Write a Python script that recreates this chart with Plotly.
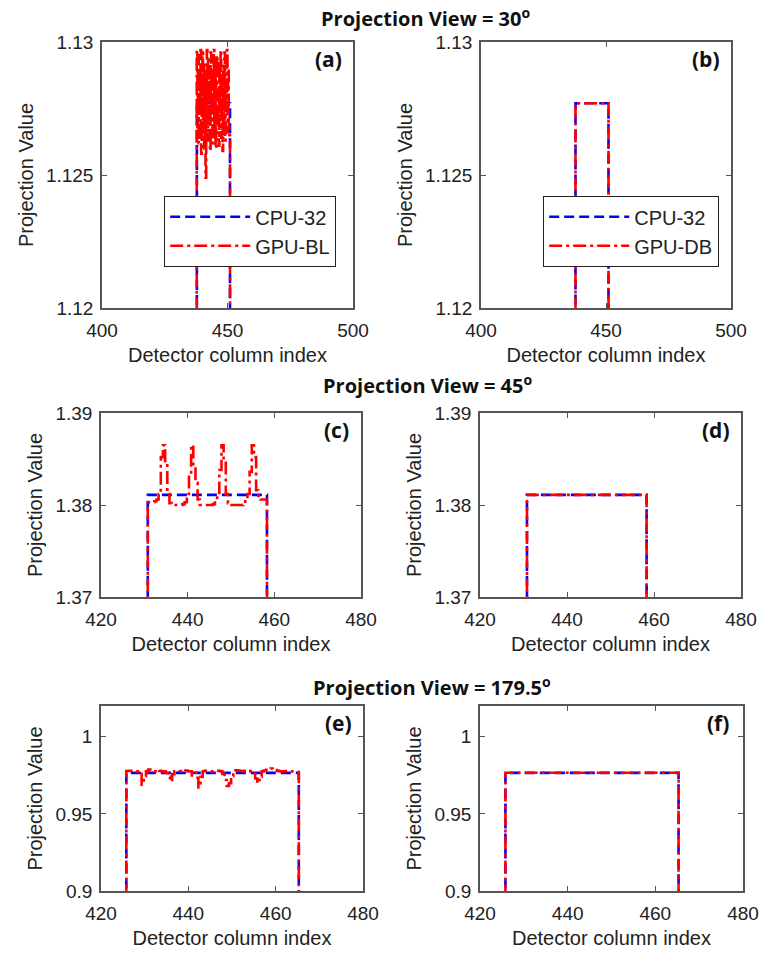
import plotly.graph_objects as go

# ---------------- data ----------------
# Projection view = 30 deg  (panels a, b)
CPU32_30_cols = [400, 437.8, 451.0, 500]
CPU32_30_vals = [1.10, 1.1277, 1.10, 1.10]
GPUDB_30_cols = [400, 437.8, 451.0, 500]
GPUDB_30_vals = [1.10, 1.1277, 1.10, 1.10]
GPUBL_30_start, GPUBL_30_step = 437.75, 0.25
GPUBL_30_vals = [1.1297, 1.1268, 1.1295, 1.1262, 1.1290, 1.1275, 1.1297, 1.1258, 1.1285, 1.1296,
                 1.1266, 1.1292, 1.1260, 1.1288, 1.1249, 1.1280, 1.1297, 1.1263, 1.1294, 1.1271,
                 1.1286, 1.1259, 1.1296, 1.1277, 1.1290, 1.1262, 1.1284, 1.1297, 1.1266, 1.1292,
                 1.1260, 1.1287, 1.1295, 1.1268, 1.1281, 1.1261, 1.1293, 1.1274, 1.1297, 1.1264,
                 1.1288, 1.1259, 1.1291, 1.1270, 1.1296, 1.1263, 1.1285, 1.1275, 1.1297, 1.1266,
                 1.1290, 1.1268, 1.1265]
BASE_30 = 1.10

# Projection view = 45 deg  (panels c, d)
CPU32_45_cols = [420, 430.8, 458.3, 480]
CPU32_45_vals = [1.36, 1.3811, 1.36, 1.36]
GPUDB_45_cols = [420, 430.8, 458.3, 480]
GPUDB_45_vals = [1.36, 1.3811, 1.36, 1.36]
GPUBL_45_start, GPUBL_45_step = 430.8, 0.5
GPUBL_45_vals = [1.3803, 1.3803, 1.3803, 1.3804, 1.3806, 1.3812, 1.3852, 1.3865, 1.3848, 1.3812,
                 1.3802, 1.3800, 1.3800, 1.3800, 1.3800, 1.3800, 1.3801, 1.3803, 1.3812, 1.3833,
                 1.3865, 1.3842, 1.3824, 1.3806, 1.3800, 1.3800, 1.3800, 1.3800, 1.3800, 1.3800,
                 1.3801, 1.3805, 1.3813, 1.3838, 1.3865, 1.3846, 1.3812, 1.3802, 1.3800, 1.3800,
                 1.3800, 1.3800, 1.3800, 1.3800, 1.3801, 1.3804, 1.3812, 1.3836, 1.3865, 1.3852,
                 1.3816, 1.3808, 1.3806, 1.3806, 1.3806]
BASE_45 = 1.36

# Projection view = 179.5 deg  (panels e, f)
CPU32_179_cols = [420, 425.8, 465.3, 480]
CPU32_179_vals = [0.85, 0.9766, 0.85, 0.85]
GPUDB_179_cols = [420, 425.8, 465.3, 480]
GPUDB_179_vals = [0.85, 0.9767, 0.85, 0.85]
GPUBL_179_start, GPUBL_179_step = 425.8, 0.5
GPUBL_179_vals = [0.9778, 0.9780, 0.9779, 0.9778, 0.9777, 0.9776, 0.9760, 0.9690, 0.9745, 0.9776,
                  0.9788, 0.9782, 0.9777, 0.9776, 0.9785, 0.9779, 0.9777, 0.9776, 0.9765, 0.9740,
                  0.9712, 0.9758, 0.9777, 0.9779, 0.9778, 0.9777, 0.9779, 0.9781, 0.9777, 0.9776,
                  0.9750, 0.9768, 0.9735, 0.9672, 0.9740, 0.9777, 0.9779, 0.9778, 0.9777, 0.9776,
                  0.9778, 0.9780, 0.9779, 0.9777, 0.9760, 0.9720, 0.9682, 0.9700, 0.9745, 0.9777,
                  0.9783, 0.9781, 0.9778, 0.9777, 0.9779, 0.9782, 0.9778, 0.9776, 0.9762, 0.9730,
                  0.9700, 0.9742, 0.9776, 0.9782, 0.9786, 0.9790, 0.9795, 0.9791, 0.9784, 0.9779,
                  0.9777, 0.9776, 0.9777, 0.9778, 0.9777, 0.9776, 0.9775, 0.9774, 0.9772]
BASE_179 = 0.85

X_RANGE_30 = [400, 500]
X_TICKS_30 = [400, 450, 500]
Y_RANGE_30 = [1.12, 1.13]
Y_TICKS_30 = [1.12, 1.125, 1.13]
Y_TICKTEXT_30 = ["1.12", "1.125", "1.13"]

X_RANGE_45 = [420, 480]
X_TICKS_45 = [420, 440, 460, 480]
Y_RANGE_45 = [1.37, 1.39]
Y_TICKS_45 = [1.37, 1.38, 1.39]
Y_TICKTEXT_45 = ["1.37", "1.38", "1.39"]

X_RANGE_179 = [420, 480]
X_TICKS_179 = [420, 440, 460, 480]
Y_RANGE_179 = [0.9, 1.02]
Y_TICKS_179 = [0.9, 0.95, 1.0]
Y_TICKTEXT_179 = ["0.9", "0.95", "1"]

TITLES = ["Projection View = 30<sup>o</sup>", "Projection View = 45<sup>o</sup>",
          "Projection View = 179.5<sup>o</sup>"]
PANEL_LABELS = ["(a)", "(b)", "(c)", "(d)", "(e)", "(f)"]


def fine_profile(start, step, vals, base, lo, hi):
    xs = [lo] + [round(start + step * i, 3) for i in range(len(vals))] + [round(start + step * len(vals), 3), hi]
    ys = [base] + list(vals) + [base, base]
    return xs, ys


W, H = 760, 958
BLUE = "#0000FF"
RED = "#FF0000"
BLUE_DASH = "10px,5px"
RED_DASH = "13px,4px,3px,4px"
LW = 2.6
TICK_FONT = dict(family="Liberation Sans, Arial, sans-serif", size=19, color="#222")
TITLE_FONT = dict(family="Liberation Sans, Arial, sans-serif", size=20, color="#222")
BOLD_FAMILY = "Open Sans, Noto Sans, sans-serif"

# panel boxes in pixels (x0, x1, y0_top, y1_bottom)
boxes = [
    (102, 353, 42, 308), (481, 731, 42, 308),
    (101, 361, 413, 597), (480, 741, 413, 597),
    (101, 363, 706, 891), (480, 743, 706, 891),
]

fig = go.Figure()

panel_data = [
    (CPU32_30_cols, CPU32_30_vals, fine_profile(GPUBL_30_start, GPUBL_30_step, GPUBL_30_vals, BASE_30, 400, 500), "GPU-BL"),
    (CPU32_30_cols, CPU32_30_vals, (GPUDB_30_cols, GPUDB_30_vals), "GPU-DB"),
    (CPU32_45_cols, CPU32_45_vals, fine_profile(GPUBL_45_start, GPUBL_45_step, GPUBL_45_vals, BASE_45, 420, 480), "GPU-BL"),
    (CPU32_45_cols, CPU32_45_vals, (GPUDB_45_cols, GPUDB_45_vals), "GPU-DB"),
    (CPU32_179_cols, CPU32_179_vals, fine_profile(GPUBL_179_start, GPUBL_179_step, GPUBL_179_vals, BASE_179, 420, 480), "GPU-BL"),
    (CPU32_179_cols, CPU32_179_vals, (GPUDB_179_cols, GPUDB_179_vals), "GPU-DB"),
]

for i, (cx, cy, (gx, gy), gname) in enumerate(panel_data):
    sfx = "" if i == 0 else str(i + 1)
    leg = None
    show = False
    if i == 0:
        leg, show = "legend", True
    elif i == 1:
        leg, show = "legend2", True
    kw = dict(xaxis="x" + sfx, yaxis="y" + sfx, showlegend=show)
    if leg:
        kw["legend"] = leg
    fig.add_trace(go.Scatter(x=cx, y=cy, mode="lines", name="CPU-32", line_shape="hv",
                             line=dict(color=BLUE, width=LW, dash=BLUE_DASH), **kw))
    fig.add_trace(go.Scatter(x=gx, y=gy, mode="lines", name=gname, line_shape="hv",
                             line=dict(color=RED, width=LW, dash=RED_DASH), **kw))

ranges = [
    (X_RANGE_30, X_TICKS_30, Y_RANGE_30, Y_TICKS_30, Y_TICKTEXT_30),
    (X_RANGE_30, X_TICKS_30, Y_RANGE_30, Y_TICKS_30, Y_TICKTEXT_30),
    (X_RANGE_45, X_TICKS_45, Y_RANGE_45, Y_TICKS_45, Y_TICKTEXT_45),
    (X_RANGE_45, X_TICKS_45, Y_RANGE_45, Y_TICKS_45, Y_TICKTEXT_45),
    (X_RANGE_179, X_TICKS_179, Y_RANGE_179, Y_TICKS_179, Y_TICKTEXT_179),
    (X_RANGE_179, X_TICKS_179, Y_RANGE_179, Y_TICKS_179, Y_TICKTEXT_179),
]

layout = {}
annotations = []
axis_common = dict(showline=True, linecolor="#555", linewidth=1.5, mirror="ticks",
                   ticks="inside", ticklen=5, tickwidth=1.3, tickcolor="#555",
                   showgrid=False, zeroline=False, tickfont=TICK_FONT, automargin=False)
for i, (b, (xr, xt, yr, yt, ytt)) in enumerate(zip(boxes, ranges)):
    sfx = "" if i == 0 else str(i + 1)
    x0, x1, y0, y1 = b
    xd = [x0 / W, x1 / W]
    yd = [1 - y1 / H, 1 - y0 / H]
    layout["xaxis" + sfx] = dict(axis_common, domain=xd, range=xr, tickvals=xt,
                                 anchor="y" + sfx, ticklabelstandoff=4,
                                 title=dict(text="Detector column index", font=TITLE_FONT, standoff=8))
    layout["yaxis" + sfx] = dict(axis_common, domain=yd, range=yr, tickvals=yt, ticktext=ytt,
                                 anchor="x" + sfx, ticklabelstandoff=3,
                                 title=dict(text="Projection Value", font=TITLE_FONT, standoff=7))
    annotations.append(dict(text="<b>" + PANEL_LABELS[i] + "</b>", x=(x1 - 25) / W, y=1 - (y0 + 17) / H,
                            xref="paper", yref="paper", showarrow=False,
                            xanchor="center", yanchor="middle",
                            font=dict(family=BOLD_FAMILY, size=21, color="#111")))

title_pos = [(425, 18), (427, 384), (432, 686)]
for t, (tx, ty) in zip(TITLES, title_pos):
    annotations.append(dict(text="<b>" + t + "</b>", x=tx / W, y=1 - ty / H, xref="paper", yref="paper",
                            showarrow=False, xanchor="center", yanchor="middle",
                            font=dict(family=BOLD_FAMILY, size=20, color="#111")))

legend_style = dict(bgcolor="white", bordercolor="#222", borderwidth=1.2,
                    font=dict(family="Liberation Sans, Arial, sans-serif", size=20, color="#222"),
                    xanchor="left", yanchor="top", itemwidth=80, tracegroupgap=0)
layout["legend"] = dict(legend_style, x=164 / W, y=1 - 196 / H)
layout["legend2"] = dict(legend_style, x=543 / W, y=1 - 196 / H)

fig.update_layout(width=W, height=H, margin=dict(l=0, r=0, t=0, b=0),
                  paper_bgcolor="white", plot_bgcolor="white",
                  annotations=annotations, **layout)

fig.write_html("out.html")
